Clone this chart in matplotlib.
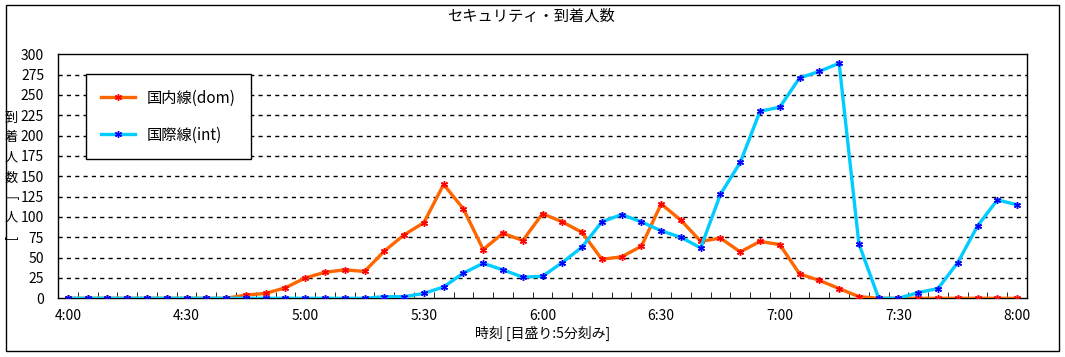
#!/usr/bin/env python3
# セキュリティ・到着人数 chart (4:00-8:00, 5 min steps)

import matplotlib
matplotlib.use("Agg")
import matplotlib.pyplot as plt
from matplotlib.patches import Rectangle
from matplotlib.ticker import FixedLocator, MultipleLocator

plt.rcParams['font.family'] = ['Noto Sans CJK JP', 'DejaVu Sans']

# Data (5-minute slots from 4:00 to 8:00)
times = [f"{h}:{m:02d}" for h in range(4, 8) for m in range(0, 60, 5)] + ["8:00"]
dom = [0, 0, 0, 0, 0, 0, 0, 0, 0, 4, 6, 13, 25, 32, 35, 33,
       58, 78, 93, 140, 110, 60, 80, 71, 104, 94, 81, 48, 51, 64,
       116, 96, 70, 74, 57, 70, 66, 30, 22, 12, 2, 0, 0, 0, 0, 0, 0, 0, 0]
intl = [0, 0, 0, 0, 0, 0, 0, 0, 0, 0, 0, 0, 0, 0, 0, 0,
        2, 2, 6, 14, 31, 43, 35, 26, 27, 44, 63, 94, 103, 94,
        83, 75, 62, 128, 167, 230, 235, 271, 279, 289, 67, 0, 0, 7, 12, 44, 89, 121, 115]
tick_labels = ["4:00", "4:30", "5:00", "5:30", "6:00", "6:30", "7:00", "7:30", "8:00"]

W, H = 1065, 357
fig = plt.figure(figsize=(W / 100, H / 100), dpi=100)

# outer frame of the chart
fig.patches.append(Rectangle((6 / W, 1 - 351 / H), (1059 - 6) / W, (351 - 5) / H,
                             transform=fig.transFigure, fill=False, edgecolor='black', linewidth=1))

ax = fig.add_axes([58 / W, 1 - 298.3 / H, (1027 - 58) / W, (298.3 - 54.3) / H])

x = list(range(len(times)))
ax.plot(x, dom, color='#FF6600', linewidth=2.4, marker=(6, 2, 0), markersize=5,
        markeredgecolor='red', markeredgewidth=1, label='国内線(dom)', zorder=3)
ax.plot(x, intl, color='#00CCFF', linewidth=2.4, marker=(6, 2, 0), markersize=5,
        markeredgecolor='blue', markeredgewidth=1, label='国際線(int)', zorder=3)

ax.set_xlim(-0.5, len(times) - 0.5)
ax.set_ylim(0, 300)

ax.yaxis.set_major_locator(MultipleLocator(25))
for v in range(25, 300, 25):
    ax.axhline(v, color='black', linewidth=1, linestyle=(0, (3, 3)), zorder=1)
ax.tick_params(axis='y', length=0, labelsize=10, pad=10)

label_pos = [times.index(t) for t in tick_labels]
ax.xaxis.set_major_locator(FixedLocator(label_pos))
ax.set_xticklabels(tick_labels)
ax.xaxis.set_minor_locator(FixedLocator([i - 0.5 for i in range(1, len(times))]))
ax.tick_params(axis='x', which='major', length=0, labelsize=10, pad=8)
ax.tick_params(axis='x', which='minor', length=4, direction='in', color='black')

for s in ax.spines.values():
    s.set_linewidth(1)

ax.set_xlabel('時刻 [目盛り:5分刻み]', fontsize=10, labelpad=2)

# vertical y-axis label, one character per line
ylab = [('到', 0), ('着', 0), ('人', 0), ('数', 0), ('[', -90), ('人', 0), (']', -90)]
for i, (ch, rot) in enumerate(ylab):
    fig.text(11 / W, 1 - (118 + i * 20) / H, ch, fontsize=9.5, ha='center', va='center',
             rotation=rot)

fig.text(531 / W, 1 - 16 / H, 'セキュリティ・到着人数', fontsize=11, ha='center', va='center')

leg = ax.legend(loc='upper left', bbox_to_anchor=(28 / 969, (298.3 - 74.3) / 244),
                fancybox=False, edgecolor='black', framealpha=1, fontsize=11,
                handlelength=2.2, labelspacing=1.3, borderpad=1.0, borderaxespad=0)
leg.get_frame().set_linewidth(1)

fig.savefig('out.png', dpi=100)
